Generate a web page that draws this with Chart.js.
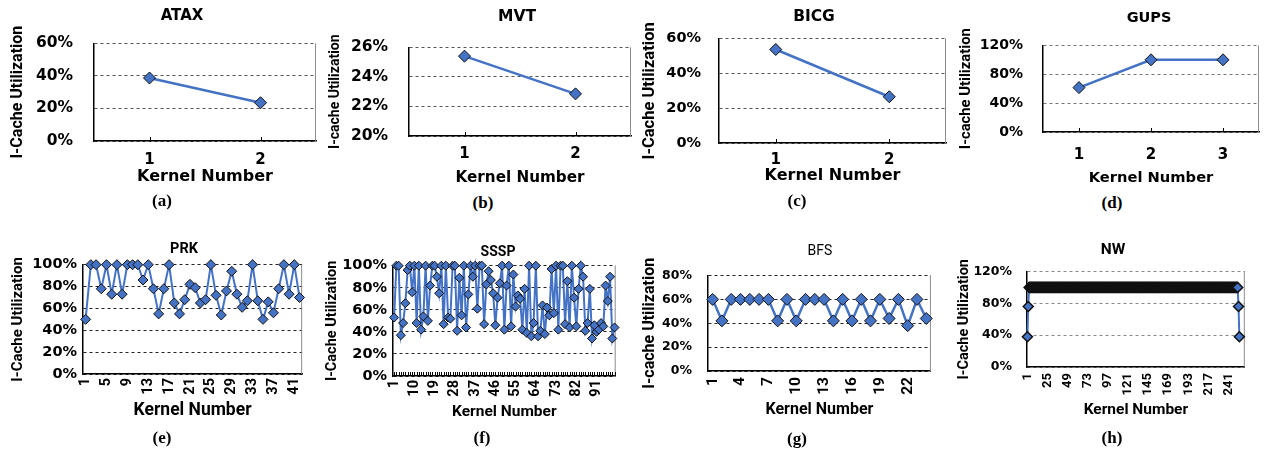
<!DOCTYPE html>
<html>
<head>
<meta charset="utf-8">
<script src="https://cdn.jsdelivr.net/npm/chart.js@4.4.1/dist/chart.umd.min.js"></script>
<style>
  html, body { margin: 0; padding: 0; background: #fff; overflow: hidden; }
  body { width: 1266px; height: 450px; position: relative; }
  canvas { position: absolute; }
  .lbl { position: absolute; transform: translate(-50%, -50%); white-space: nowrap; color: #000; font-weight: bold; line-height: 1; }
  .cap { font-family: "Liberation Serif", serif; font-size: 17px; }
</style>
</head>
<body>
<script>
// kernel numbers (categories) and I-cache utilization (%)
const ataxKernels = ['1', '2'];
const ataxUtil = [38.7, 23.5];

const mvtKernels = ['1', '2'];
const mvtUtil = [25.4, 22.85];

const bicgKernels = ['1', '2'];
const bicgUtil = [53.8, 26.6];

const gupsKernels = ['1', '2', '3'];
const gupsUtil = [61.5, 100, 100];

const prkKernels = Array.from({ length: 42 }, (_, i) => String(i + 1));
const prkUtil = [50, 100, 100, 78, 100, 73, 100, 73, 100, 100,
                 100, 86, 100, 78, 55, 78, 100, 65, 55, 68,
                 82, 79, 65, 68, 100, 72, 54, 76, 94, 73,
                 61, 67, 100, 67, 50, 66, 56, 78, 100, 73,
                 100, 70];
const prkTicks = [1, 5, 9, 13, 17, 21, 25, 29, 33, 37, 41];

const ssspKernels = Array.from({ length: 99 }, (_, i) => String(i + 1));
const ssspUtil = [53, 100, 100, 37, 48, 66, 96, 100, 76, 100,
                  48, 100, 42, 54, 100, 50, 82, 100, 100, 90,
                  75, 100, 47, 100, 53, 52, 100, 100, 41, 89,
                  55, 100, 44, 74, 100, 90, 100, 61, 100, 100,
                  47, 83, 95, 87, 75, 46, 71, 84, 100, 42,
                  82, 100, 45, 92, 63, 73, 70, 42, 79, 39,
                  100, 36, 48, 100, 36, 41, 64, 38, 62, 55,
                  97, 57, 100, 42, 100, 100, 47, 86, 44, 100,
                  71, 45, 79, 100, 90, 41, 48, 79, 34, 46,
                  40, 42, 48, 45, 82, 68, 90, 34, 44];
const ssspTicks = [1, 10, 19, 28, 37, 46, 55, 64, 73, 82, 91];

const bfsKernels = Array.from({ length: 24 }, (_, i) => String(i + 1));
const bfsUtil = [60, 42, 60, 60, 60, 60, 60, 42, 60, 42, 60, 60,
                 60, 42, 60, 42, 60, 42, 60, 44, 60, 38, 60, 44];
const bfsTicks = [1, 4, 7, 10, 13, 16, 19, 22];

const nwKernels = Array.from({ length: 260 }, (_, i) => String(i + 1));
const nwUtil = [38, 76,
  100, 100, 100, 100, 100, 100, 100, 100, 100, 100, 100, 100, 100, 100, 100, 100, 100, 100, 100, 100, 100, 100, 100, 100, 100,
  100, 100, 100, 100, 100, 100, 100, 100, 100, 100, 100, 100, 100, 100, 100, 100, 100, 100, 100, 100, 100, 100, 100, 100, 100,
  100, 100, 100, 100, 100, 100, 100, 100, 100, 100, 100, 100, 100, 100, 100, 100, 100, 100, 100, 100, 100, 100, 100, 100, 100,
  100, 100, 100, 100, 100, 100, 100, 100, 100, 100, 100, 100, 100, 100, 100, 100, 100, 100, 100, 100, 100, 100, 100, 100, 100,
  100, 100, 100, 100, 100, 100, 100, 100, 100, 100, 100, 100, 100, 100, 100, 100, 100, 100, 100, 100, 100, 100, 100, 100, 100,
  100, 100, 100, 100, 100, 100, 100, 100, 100, 100, 100, 100, 100, 100, 100, 100, 100, 100, 100, 100, 100, 100, 100, 100, 100,
  100, 100, 100, 100, 100, 100, 100, 100, 100, 100, 100, 100, 100, 100, 100, 100, 100, 100, 100, 100, 100, 100, 100, 100, 100,
  100, 100, 100, 100, 100, 100, 100, 100, 100, 100, 100, 100, 100, 100, 100, 100, 100, 100, 100, 100, 100, 100, 100, 100, 100,
  100, 100, 100, 100, 100, 100, 100, 100, 100, 100, 100, 100, 100, 100, 100, 100, 100, 100, 100, 100, 100, 100, 100, 100, 100,
  100, 100, 100, 100, 100, 100, 100, 100, 100, 100, 100, 100, 100, 100, 100, 100, 100, 100, 100, 100, 100, 100, 100, 100, 100,
  76, 38];
const nwTicks = [1, 25, 49, 73, 97, 121, 145, 169, 193, 217, 241];

const BLUE = '#4472C4';
const SANS = '"DejaVu Sans", sans-serif';
const NARROW = 'Roboto, sans-serif';

// panel layout: plot box (L,T,R,B), label positions, font sizes
const panels = [
  { title: 'ATAX', cap: '(a)', labels: ataxKernels, values: ataxUtil, y: [0, 60, 20], yName: 'I-Cache Utilization',
    L: 94, T: 25, R: 319, B: 141, pr: 4, yTitleX: 18, xTitleY: 176, titleXY: [182, 15], capXY: [162, 200],
    yPad: 21, xPad: 10, fTickY: 15.5, fTickX: 15, fXT: 16, fYT: 16, fT: 15, tFam: SANS, xtFam: SANS, xFam: SANS,
    r: 6, lw: 2.5, grid: '#555', tick: 4 },
  { title: 'MVT', cap: '(b)', labels: mvtKernels, values: mvtUtil, y: [20, 26, 2], yName: 'I-cache Utilization',
    L: 409, T: 29, R: 634, B: 136, pr: 4, yTitleX: 335, xTitleY: 178, titleXY: [517, 17], capXY: [483, 202],
    yPad: 21, xPad: 9, fTickY: 15.5, fTickX: 15, fXT: 15.2, fYT: 14, fT: 15.5, tFam: SANS, xtFam: SANS, xFam: SANS,
    r: 6, lw: 2.5, grid: '#555', tick: 4 },
  { title: 'BICG', cap: '(c)', labels: bicgKernels, values: bicgUtil, y: [0, 60, 20], yName: 'I-Cache Utilization',
    L: 719, T: 24, R: 949, B: 143, pr: 4, yTitleX: 650, xTitleY: 175, titleXY: [814, 17], capXY: [797, 200],
    yPad: 18, xPad: 8, fTickY: 14.5, fTickX: 15, fXT: 16, fYT: 16.5, fT: 15.5, tFam: SANS, xtFam: SANS, xFam: SANS,
    r: 6, lw: 2.5, grid: '#555', tick: 4 },
  { title: 'GUPS', cap: '(d)', labels: gupsKernels, values: gupsUtil, y: [0, 120, 40], yName: 'I-cache Utilization',
    L: 1043, T: 29, R: 1265, B: 132, pr: 1, yTitleX: 966, xTitleY: 178, titleXY: [1149, 17], capXY: [1112, 202],
    yPad: 20, xPad: 14, fTickY: 14, fTickX: 15, fXT: 14.7, fYT: 14.8, fT: 14.5, tFam: SANS, xtFam: SANS, xFam: SANS,
    r: 6, lw: 2.5, grid: '#777', tick: 4 },
  { title: 'PRK', cap: '(e)', labels: prkKernels, values: prkUtil, shown: prkTicks, y: [0, 100, 20], yName: 'I-Cache Utilization',
    L: 83, T: 262, R: 317, B: 374, pr: 4, yTitleX: 18, xTitleY: 410, titleXY: [184, 249], capXY: [162, 437],
    yPad: 6, xPad: 4, fTickY: 14.5, fTickX: 14.5, fXT: 17.5, fYT: 15, fT: 14.5, tFam: NARROW, xtFam: NARROW, xFam: NARROW,
    r: 5, lw: 2, grid: '#222', tick: 0, rot: 90 },
  { title: 'SSSP', cap: '(f)', labels: ssspKernels, values: ssspUtil, shown: ssspTicks, y: [0, 100, 20], yName: 'I-Cache Utilization',
    L: 393, T: 263, R: 632, B: 376, pr: 4, yTitleX: 333, xTitleY: 412, titleXY: [498, 251], capXY: [482, 437],
    yPad: 6, xPad: 4, fTickY: 14.5, fTickX: 14.5, fXT: 15.5, fYT: 14.5, fT: 14, tFam: NARROW, xtFam: NARROW, xFam: NARROW,
    r: 4.5, lw: 2, grid: '#222', tick: 4, rot: 90 },
  { title: 'BFS', cap: '(g)', labels: bfsKernels, values: bfsUtil, shown: bfsTicks, y: [0, 80, 20], yName: 'I-cache Utilization',
    L: 708, T: 264, R: 947, B: 371, pr: 4, yTitleX: 650, xTitleY: 410, titleXY: [820, 250], capXY: [797, 438],
    yPad: 16, xPad: 6, fTickY: 12.5, fTickX: 15.5, fXT: 16, fYT: 16, fT: 14, tFam: NARROW, xtFam: NARROW, xFam: NARROW,
    r: 6, lw: 2.5, grid: '#222', tick: 0, rot: 90, tWeight: 'normal' },
  { title: 'NW', cap: '(h)', labels: nwKernels, values: nwUtil, shown: nwTicks, y: [0, 120, 40], yName: 'I-Cache Utilization',
    L: 1027, T: 261, R: 1265, B: 367, pr: 1, yTitleX: 965, xTitleY: 410, titleXY: [1113, 250], capXY: [1112, 437],
    yPad: 15, xPad: 6, fTickY: 12.5, fTickX: 13, fXT: 15.5, fYT: 14.5, fT: 15.5, tFam: NARROW, xtFam: NARROW, xFam: NARROW,
    r: 5, lw: 2, grid: '#888', tick: 0, rot: 90, pbw: 1.5 },
];

// right edge of the plot box and little inner tick marks on the category axis
const frame = {
  id: 'frame',
  beforeDatasetsDraw(chart, args, opts) {
    const { ctx, chartArea: a } = chart;
    ctx.save();
    ctx.lineWidth = 1;
    ctx.strokeStyle = '#8c8c8c';
    ctx.beginPath();
    ctx.moveTo(a.right - 0.5, a.top);
    ctx.lineTo(a.right - 0.5, a.bottom);
    ctx.stroke();
    if (opts.tick) {
      const xs = chart.scales.x;
      ctx.strokeStyle = '#000';
      ctx.beginPath();
      chart.data.labels.forEach((_, i) => {
        const px = Math.round(xs.getPixelForValue(i)) + 0.5;
        ctx.moveTo(px, a.bottom);
        ctx.lineTo(px, a.bottom - opts.tick);
      });
      ctx.stroke();
    }
    ctx.restore();
  }
};

function addText(cls, text, xy, fam, size, weight) {
  const d = document.createElement('div');
  d.className = cls;
  d.textContent = text;
  d.style.left = xy[0] + 'px';
  d.style.top = xy[1] + 'px';
  if (fam) d.style.fontFamily = fam;
  if (size) d.style.fontSize = size + 'px';
  if (weight) d.style.fontWeight = weight;
  document.body.appendChild(d);
}

panels.forEach(p => {
  const ylh = p.fYT * 1.2, xlh = p.fXT * 1.2;
  const cx = Math.round(p.yTitleX - ylh / 2);
  const cy = p.T - 12;
  const cw = p.R + p.pr - cx;
  const ch = Math.round(p.xTitleY + xlh / 2 - cy);
  const wy = p.L - cx;
  const hx = cy + ch - p.B;
  const rot = p.rot || 0;

  const cv = document.createElement('canvas');
  cv.width = cw; cv.height = ch;
  cv.style.left = cx + 'px'; cv.style.top = cy + 'px';
  cv.style.width = cw + 'px'; cv.style.height = ch + 'px';
  document.body.appendChild(cv);

  new Chart(cv, {
    type: 'line',
    data: {
      labels: p.labels,
      datasets: [{
        data: p.values,
        borderColor: BLUE,
        borderWidth: p.lw,
        backgroundColor: BLUE,
        pointStyle: 'rectRot',
        pointRadius: p.r,
        pointHoverRadius: p.r,
        pointBackgroundColor: BLUE,
        pointBorderColor: '#111',
        pointBorderWidth: p.pbw || 1,
        tension: 0,
        clip: false
      }]
    },
    options: {
      responsive: false,
      animation: false,
      devicePixelRatio: 1,
      layout: { padding: { top: 12, right: p.pr, left: 0, bottom: 0 } },
      plugins: {
        legend: { display: false },
        tooltip: { enabled: false },
        frame: { tick: p.tick }
      },
      scales: {
        x: {
          offset: true,
          grid: { display: false, drawTicks: false },
          border: { color: '#000', width: 1.5 },
          ticks: {
            autoSkip: false,
            maxRotation: rot,
            minRotation: rot,
            padding: p.xPad,
            color: '#000',
            font: { family: p.xFam, size: p.fTickX, weight: 'bold' },
            callback: (v, i) => (!p.shown || p.shown.includes(i + 1)) ? p.labels[i] : ''
          },
          title: {
            display: true, text: 'Kernel Number', padding: 0, color: '#000',
            font: { family: p.xtFam, size: p.fXT, weight: 'bold' }
          },
          afterFit: s => { s.height = hx; }
        },
        y: {
          min: p.y[0], max: p.y[1],
          grid: { color: p.grid, lineWidth: 1, drawTicks: false },
          border: { color: '#000', width: 1.5, dash: [3, 3] },
          ticks: {
            stepSize: p.y[2],
            padding: p.yPad,
            color: '#000',
            font: { family: SANS, size: p.fTickY, weight: 'bold' },
            callback: v => v + '%'
          },
          title: {
            display: true, text: p.yName, padding: 0, color: '#000',
            font: { family: NARROW, size: p.fYT, weight: 'bold' }
          },
          afterFit: s => { s.width = wy; }
        }
      }
    },
    plugins: [frame]
  });

  addText('lbl', p.title, p.titleXY, p.tFam, p.fT, p.tWeight);
  addText('lbl cap', p.cap, p.capXY);
});
</script>
</body>
</html>
